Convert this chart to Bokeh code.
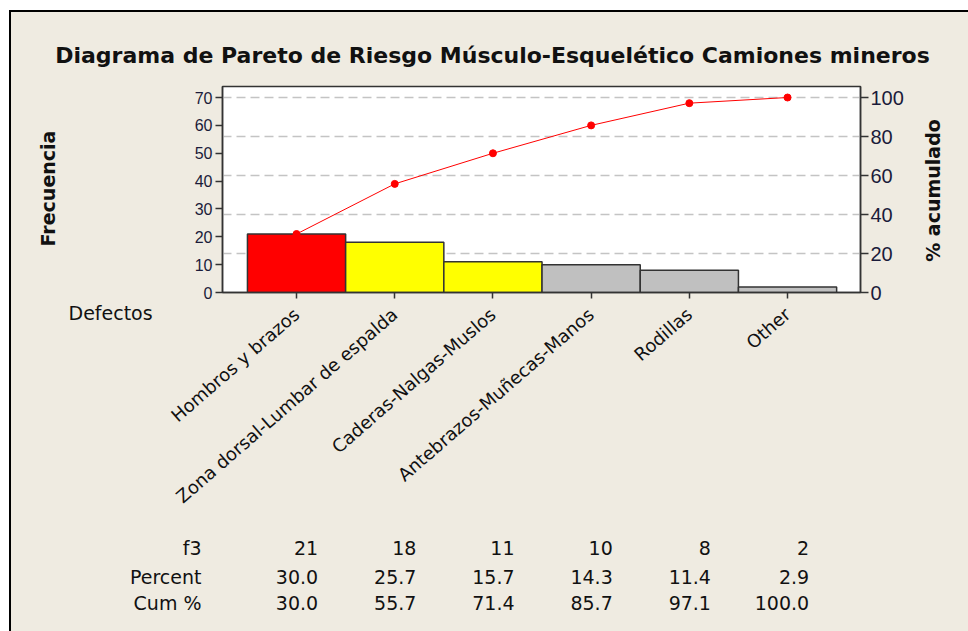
import math
from bokeh.plotting import figure
from bokeh.layouts import column, row
from bokeh.models import (Range1d, LinearAxis, FixedTicker, Grid, Label, Title,
                          ColumnDataSource)
from bokeh.core.properties import value
from bokeh.embed import file_html
from bokeh.resources import INLINE

# ---- data ----
categories = ["Hombros y brazos", "Zona dorsal-Lumbar de espalda", "Caderas-Nalgas-Muslos",
              "Antebrazos-Muñecas-Manos", "Rodillas", "Other"]
counts = [21, 18, 11, 10, 8, 2]
percent = [30.0, 25.7, 15.7, 14.3, 11.4, 2.9]
cum_pct = [30.0, 55.7, 71.4, 85.7, 97.1, 100.0]
left_ticks = [0, 10, 20, 30, 40, 50, 60, 70]
right_ticks = [0, 20, 40, 60, 80, 100]
row_labels = ["f3", "Percent", "Cum %"]

# ---- style / layout (page pixels) ----
bar_colors = ["#FF0000", "#FFFF00", "#FFFF00", "#C0C0C0", "#C0C0C0", "#C0C0C0"]
BG = "#EFEBE1"
TXT = "#111111"
W, H = 968, 631
OX, OY = 11, 12                         # inside the black picture border
ROW_TOP, ROW_BOT = 70, 535
LEFT_END, RIGHT_START = 155, 918
FL, FR, FT, FB = 222, 860, 86, 292      # plot frame edges
X0, X1 = 0.246, 6.743                   # x range of the plot frame
YMAX = 73.95
UNIT = (FR - FL) / (X1 - X0)            # pixels per category
FONT = "DejaVu Sans"

pos = list(range(1, len(categories) + 1))


def helper(width, height, x_range, y_range, top=0, bottom=0):
    f = figure(width=width, height=height, output_backend="svg", toolbar_location=None,
               x_range=x_range, y_range=y_range,
               min_border_left=0, min_border_right=0, min_border_top=top,
               min_border_bottom=bottom, background_fill_color=None, border_fill_color=BG,
               outline_line_color=None)
    f.axis.visible = False
    f.grid.visible = False
    return f


def text_label(f, x, y, text, size, bold=False, align="center", angle=0.0, x_units="data"):
    f.add_layout(Label(x=x, y=y, x_units=x_units, text=text, angle=angle,
                       text_font=FONT, text_font_style="bold" if bold else "normal",
                       text_font_size=size, text_align=align, text_baseline="middle",
                       text_color=TXT))


# ---- title strip ----
top_h = ROW_TOP - OY
top = helper(W - OX, top_h, Range1d(OX, W), Range1d(0, top_h))
text_label(top, 492, ROW_TOP - 55,
           "Diagrama de Pareto de Riesgo Músculo-Esquelético Camiones mineros", "22px", bold=True)

mid_h = ROW_BOT - ROW_TOP
b_top, b_bot = FT - ROW_TOP, ROW_BOT - FB

# ---- left strip (frame shares the chart's vertical extent) ----
left = helper(LEFT_END - OX, mid_h, Range1d(OX, LEFT_END), Range1d(0, FB - FT), b_top, b_bot)
text_label(left, 47, FB - 188, "Frecuencia", "19px", bold=True, angle=math.pi / 2)
left.add_layout(Title(text="Defectos", align="left", offset=68 - OX, standoff=14,
                      text_font=FONT, text_font_size="19px", text_font_style="normal",
                      text_color=TXT), "below")

# ---- right strip ----
right = helper(W - RIGHT_START, mid_h, Range1d(RIGHT_START, W), Range1d(0, FB - FT),
               b_top, b_bot)
text_label(right, 932, FB - 190, "% acumulado", "19px", bold=True, angle=math.pi / 2)

# ---- main Pareto chart ----
p = figure(width=RIGHT_START - LEFT_END, height=mid_h, output_backend="svg",
           toolbar_location=None, x_range=Range1d(X0, X1), y_range=Range1d(0, YMAX),
           min_border_left=FL - LEFT_END, min_border_right=RIGHT_START - FR,
           min_border_top=b_top, min_border_bottom=b_bot,
           background_fill_color="white", border_fill_color=BG,
           outline_line_color="#333333", outline_line_width=1.5)
p.extra_y_ranges = {"pct": Range1d(0, YMAX * 100 / 70)}
p.xgrid.visible = False
p.ygrid.visible = False

src = ColumnDataSource(dict(x=pos, top=counts, color=bar_colors, cum=cum_pct))
p.add_layout(Grid(dimension=1, ticker=FixedTicker(ticks=right_ticks[1:]), y_range_name="pct",
                  grid_line_color="#C4C4C4", grid_line_dash="9 5", grid_line_width=1.5),
             "center")
p.vbar(x="x", top="top", width=1.0, bottom=0, fill_color="color",
       line_color="#333333", line_width=1.5, source=src)
p.line(x="x", y="cum", source=src, line_color="#FF0000", line_width=1, y_range_name="pct")
p.scatter(x="x", y="cum", source=src, size=7, fill_color="#FF0000", line_color="#FF0000",
          y_range_name="pct")


def style_axis(a, font, size, tick_out, standoff):
    a.major_label_text_font = font
    a.major_label_text_font_size = size
    a.major_tick_out = tick_out
    a.major_tick_in = 0
    a.major_label_standoff = standoff
    a.minor_tick_line_color = None
    a.axis_line_color = "#333333"
    a.axis_line_width = 1.5
    a.major_tick_line_color = "#333333"
    a.major_tick_line_width = 1.5


ax = p.xaxis[0]
ax.ticker = FixedTicker(ticks=pos)
ax.major_label_overrides = {i: c for i, c in zip(pos, categories)}
ax.major_label_orientation = math.radians(41)
ax.major_label_text_color = TXT
style_axis(ax, FONT, "18px", 6, 13)

ly = p.yaxis[0]
ly.ticker = FixedTicker(ticks=left_ticks)
ly.major_label_text_color = "#1b1b3a"
style_axis(ly, "Liberation Sans", "16px", 7, 3)

ry = LinearAxis(y_range_name="pct", ticker=FixedTicker(ticks=right_ticks))
ry.major_label_text_color = "#1b1b3a"
style_axis(ry, "Liberation Sans", "20px", 8, 2)
p.add_layout(ry, "right")

# ---- summary table, aligned with the chart's categories ----
tbl_h = H - ROW_BOT
tbl = helper(W - OX, tbl_h, Range1d(X0 - (FL - OX) / UNIT, X0 + (W - FL) / UNIT),
             Range1d(0, tbl_h))
row_y = [H - 547, H - 576, H - 602]
for lab, yy in zip(row_labels, row_y):
    text_label(tbl, 201 - OX, yy, lab, "19px", align="right", x_units="screen")
rows = [[str(c) for c in counts], [f"{v:.1f}" for v in percent], [f"{v:.1f}" for v in cum_pct]]
for vals, yy in zip(rows, row_y):
    tsrc = ColumnDataSource(dict(x=[x + 0.22 for x in pos], y=[yy] * len(pos), t=vals))
    tbl.text(x="x", y="y", text="t", source=tsrc, text_font=value(FONT),
             text_font_size="19px", text_align="right", text_baseline="middle",
             text_color=TXT)

layout = column(top, row(left, p, right, styles={"background-color": BG}), tbl)
layout.styles = {"margin-left": f"{OX - 2}px", "margin-top": f"{OY - 2}px",
                 "border-left": "2px solid black", "border-top": "2px solid black",
                 "background-color": BG}
open("out.html", "w").write(file_html(layout, INLINE))
